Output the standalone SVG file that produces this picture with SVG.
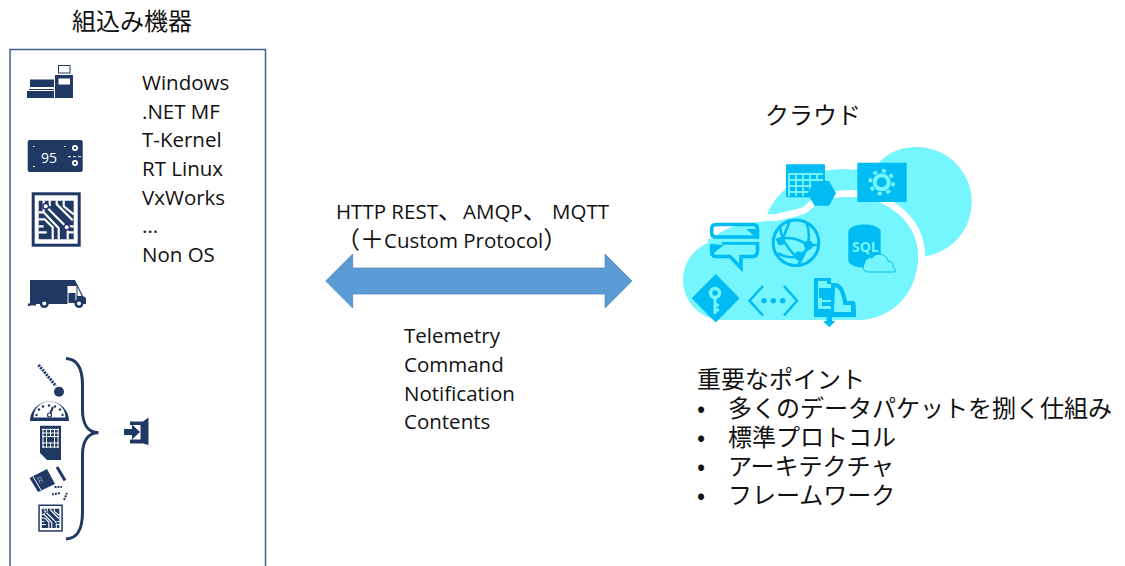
<svg xmlns="http://www.w3.org/2000/svg" width="1125" height="566" viewBox="0 0 1125 566">
<style>
text{font-family:"Open Sans","Noto Sans CJK JP",sans-serif;font-size:20.500px;fill:#111}
.j{font-family:"Noto Sans CJK JP",sans-serif;font-size:24px;font-weight:400}
.k{font-family:"Noto Sans CJK JP",sans-serif;font-size:24px}
.n{fill:#1f3864}.w{fill:#fff}.b{fill:#00bcf2}.c{fill:#75f6ff}
.lb{fill:none;stroke:#00bcf2}.lc{fill:none;stroke:#75f6ff}.lw{fill:none;stroke:#fff}.ln{fill:none;stroke:#1f3864}
</style>
<defs>
<g id="chip">
<rect class="n" x="0" y="0" width="49" height="54.400"/>
<rect class="w" x="3" y="3" width="43" height="48.400"/>
<path class="n" d="M7,8.400H42V47H7Z"/>
<path class="lw" stroke-width="2.200" d="M12,8V19M18,8V14M25,8L25,12L41,28M32,8V14L42,22M7,20H12L27,36V47M7,27H13L21,35V47M7,34H12M7,40H15M36,36V47M42,34H36M14,14L34,34M42,40H36"/>
<circle class="n" cx="14" cy="14" r="3.500"/><circle class="w" cx="14" cy="14" r="2"/>
<circle class="n" cx="35" cy="35" r="3.500"/><circle class="w" cx="35" cy="35" r="2"/>
</g>
</defs>

<g id="device-box">
<path d="M10,566V49.500H265.500V566" fill="none" stroke="#41608f" stroke-width="1.500"/>
<text class="j" x="72" y="30">組込み機器</text>
</g>

<g id="icon-pos">
<rect x="58.500" y="65.500" width="11.500" height="7.500" fill="#fff" stroke="#1f3864" stroke-width="1"/>
<path class="n" d="M55,75H73V98H55ZM30,79.500H54V87H30ZM29,89H54V90H29ZM27,91H54V98H27Z"/>
<rect class="w" x="58.500" y="78.500" width="11.500" height="6"/>
</g>

<g id="icon-thermostat">
<rect class="n" x="27.700" y="140" width="55" height="32" rx="2"/>
<text x="41" y="162.500" style="font-size:14px;fill:#fff">95</text>
<circle class="w" cx="75" cy="148" r="3"/><circle class="n" cx="75" cy="148" r="1.200"/>
<circle class="w" cx="75" cy="163" r="3"/><circle class="n" cx="75" cy="163" r="1.200"/>
<path class="lw" stroke-width="1" d="M68,156.700H71M73,156.700H76M78,156.700H81M33,146.500H34.500M64,146.500H65.500M33,166.500H35"/>
</g>

<g id="icon-chip"><use href="#chip" x="31.700" y="192.300"/></g>

<g id="icon-truck">
<path class="n" d="M30,280H75L83,296L86,298V304H28V306H30Z"/>
<path class="n" d="M28,303.500H36V305.500H28Z"/>
<path class="w" d="M67.500,286H76.500V304H67.500Z"/>
<path class="n" d="M68.500,293H75.500V303H68.500Z"/>
<path class="w" d="M77.500,287L81.500,296H77.500Z"/>
<circle class="n" cx="44.300" cy="303.500" r="4.500"/><circle class="w" cx="44.300" cy="303.500" r="2"/>
<circle class="n" cx="79" cy="303.500" r="4.500"/><circle class="w" cx="79" cy="303.500" r="2"/>
</g>

<g id="icon-thermometer">
<path class="ln" stroke-width="3" stroke-dasharray="2 1" d="M38.500,365L56,386"/>
<circle class="n" cx="59" cy="391.700" r="5"/>
</g>

<g id="icon-gauge">
<path class="n" d="M30,421A19.500,19.500 0 0 1 69,421Z"/>
<path class="w" d="M33.500,417.500A16,16 0 0 1 65.500,417.500Z"/>
<g class="n"><circle cx="36.500" cy="415" r="1.200"/><circle cx="39" cy="409.500" r="1.200"/><circle cx="43" cy="406.500" r="1.200"/><circle cx="49" cy="405.500" r="1.200"/><circle cx="55" cy="406.500" r="1.200"/><circle cx="60" cy="409.500" r="1.200"/><circle cx="62.500" cy="415" r="1.200"/></g>
<path class="ln" stroke-width="2" d="M50,414L53,407"/><circle cx="49.500" cy="415" r="2" fill="#fff" stroke="#1f3864" stroke-width="1.200"/>
</g>

<g id="icon-sim">
<path class="n" d="M40,425.700H61V460H47L40,453Z"/>
<path class="lw" stroke-width="1" d="M43,428.500V448M46.500,428.500V448M50.500,428.500V448M54.500,428.500V448M58,428.500V448M42,429.500H59M42,433H59M42,436.500H59M42,443H59M42,447H59"/>
<path class="n" d="M47,437H54V442H47Z"/>
</g>

<g id="icon-resistor">
<path class="n" d="M29.500,478L47,469L55,484L38,492Z"/>
<path class="lw" stroke-width="1" d="M33,476.500L41,490"/>
<text x="0" y="0" transform="translate(39,484) rotate(-25)" style="font-size:9px;fill:#8ea3c4">R</text>
<path class="ln" stroke-width="3" d="M57,467L65,480.500"/>
<path class="ln" stroke-width="2" stroke-dasharray="2 1" d="M54.500,487L62,487M52,494.500L60,493M64,500L67,493"/>
</g>

<g id="icon-chip-small"><use href="#chip" transform="translate(38.300,504.500) scale(0.5)"/></g>

<g id="brace">
<path class="ln" stroke-width="3" d="M66,358.500C76,359 82.500,366 82.500,385V410C82.500,424 88,432.700 98.500,432.700C88,432.700 82.500,441 82.500,455V512C82.500,532 76,538.500 66,539"/>
</g>

<g id="icon-exit">
<path class="n" d="M130,421.500H143L148.500,417.500V445L143,443.500H130V439.500H140.500V425H130Z"/>
<path class="n" d="M124,429H132V424.500L140,432L132,439.500V435H124Z"/>
</g>

<g id="os-list">
<text x="142" y="90">Windows</text>
<text x="142" y="118.700">.NET MF</text>
<text x="142" y="147.400">T-Kernel</text>
<text x="142" y="176">RT Linux</text>
<text x="142" y="204.700">VxWorks</text>
<text x="142" y="233.400">...</text>
<text x="142" y="262">Non OS</text>
</g>

<g id="connectors">
<path d="M325.700,281L352.700,254V268H605V254L632,281L605,308V294H352.700V308Z" fill="#5b9bd5" stroke="#5585b5" stroke-width="0.750"/>
</g>

<g id="protocol-label">
<text x="336" y="219">HTTP REST<tspan class="k">、</tspan><tspan x="463">AMQP</tspan><tspan class="k">、</tspan><tspan x="552">MQTT</tspan></text>
<text x="336" y="248"><tspan class="k">（＋</tspan><tspan x="384">Custom Protocol</tspan><tspan class="k">）</tspan></text>
</g>

<g id="message-types">
<text x="404" y="343">Telemetry</text>
<text x="404" y="372">Command</text>
<text x="404" y="400.500">Notification</text>
<text x="404" y="429">Contents</text>
</g>

<g id="cloud-back">
<path class="c" d="M767,215C776,191 802,170 843,169C853,170 868,170 877,165C889,150 905,147 918,147A55,55 0 0 1 924,256.500C915,256 890,240 860,225Z"/>
</g>
<g id="cloud-front">
<path class="c" stroke="#fff" stroke-width="14" paint-order="stroke" d="M725,320A40,40 0 0 1 708,243C722,226 745,222 777,221C788,218 803,216 808,212C820,200 835,197 850,197C890,197 918,225 918,255C918,295 890,320 857,320Z"/>
<path class="c" d="M725,320A40,40 0 0 1 708,243C722,226 745,222 777,221C788,218 803,216 808,212C820,200 835,197 850,197C890,197 918,225 918,255C918,295 890,320 857,320Z"/>
</g>

<g id="icon-table">
<rect class="b" x="786" y="164.300" width="39" height="33" rx="1"/>
<path class="lc" stroke-width="1.800" d="M789,174V196M796,174V196M803,174V196M810,174V196M817,174V190M788,174H823M788,180H823M788,186H823M788,192H815"/>
<path class="b" d="M807.500,193.300L814.500,181H829L836,193.300L829,205.700H814.500Z"/>
</g>
<g id="icon-gear">
<rect class="b" x="857.300" y="162.700" width="49.400" height="39.300" rx="1"/>
<circle class="lc" cx="881.700" cy="182.300" r="11.500" stroke-width="3.500" stroke-dasharray="4 5"/>
<circle class="lc" cx="881.700" cy="182.300" r="7" stroke-width="4"/>
</g>
<g id="icon-message">
<path class="lb" stroke-width="3.500" d="M748,224.500H716Q711.700,224.500 711.700,229V233Q711.700,237 716,237H757.500V229Q757.500,224.500 753,224.500ZM711.700,244V250Q711.700,256.500 716,256.500H730L741,268V256.500H753Q757.500,256.500 757.500,250V243H722"/>
<path class="b" d="M746,229L759,240V229ZM710,244V256L724,245Z"/>
<path class="c" d="M708,239H762V242H708Z"/>
</g>
<g id="icon-globe">
<circle class="lb" cx="796" cy="242.700" r="22.800" stroke-width="3"/>
<path class="lb" stroke-width="2.500" d="M780,226C781,240 790,252 800,260M790,220C785,235 782,240 779,245M806,222C812,235 808,250 798,265M776,240C790,235 800,240 808,245L819,245M778,253C785,258 795,258 799,256L812,246"/>
<circle class="b" cx="808.500" cy="245" r="4.500"/><circle class="b" cx="799" cy="256" r="4.500"/><circle class="b" cx="781" cy="241" r="4"/>
</g>
<g id="icon-sql">
<path class="b" d="M848.300,232C848.300,222 880.700,222 880.700,232V260C880.700,270 848.300,270 848.300,260Z"/>
<text x="852" y="252" style="font-size:14px;font-weight:700;fill:#75f6ff">SQL</text>
<path class="c" stroke="#00bcf2" stroke-width="1" d="M868,272A5,5 0 0 1 864.500,263.500A6,6 0 0 1 872,258A9,9 0 0 1 888,261A5,5 0 0 1 893,267A4,4 0 0 1 895,272Z"/>
</g>
<g id="icon-key">
<path class="b" d="M715.700,274L739.700,298.300L715.700,322.500L691.700,298.300Z"/>
<circle class="lc" cx="715" cy="293" r="4.500" stroke-width="3.500"/>
<path class="lc" stroke-width="3" d="M715,297V314M715,305H719M715,310H719"/>
</g>
<g id="icon-api">
<path class="lb" stroke-width="2.500" d="M763,286L749.500,300.700L763,315.500M784,286L797,300.700L784,315.500"/>
<circle class="b" cx="764" cy="300.700" r="2.700"/><circle class="b" cx="773.300" cy="300.700" r="2.700"/><circle class="b" cx="782.700" cy="300.700" r="2.700"/>
</g>
<g id="icon-import">
<path class="b" d="M814,278H831V283H835C842,283 845,291 847,301H853C856,301 856,305 856,317H814Z"/>
<path class="c" d="M818,281H827V284H831V288H819V298H831V309H818ZM835,287C840,288 842,296 843.500,305H851V312H834Z"/>
<path class="b" d="M822,290H834V294H822ZM822,296H834V300H822ZM822,302H834V306H822Z"/>
<path class="b" d="M826.500,314H832V321H835.500L829.300,327.300L823,321H826.500Z"/>
</g>

<g id="cloud-title"><text class="j" x="765" y="124">クラウド</text></g>
<g id="key-points">
<text class="j" x="697" y="388">重要なポイント</text>
<text class="j" x="697" y="417">•</text><text class="j" x="728" y="417">多くのデータパケットを捌く仕組み</text>
<text class="j" x="697" y="446">•</text><text class="j" x="728" y="446">標準プロトコル</text>
<text class="j" x="697" y="475">•</text><text class="j" x="728" y="475">アーキテクチャ</text>
<text class="j" x="697" y="504">•</text><text class="j" x="728" y="504">フレームワーク</text>
</g>
</svg>
